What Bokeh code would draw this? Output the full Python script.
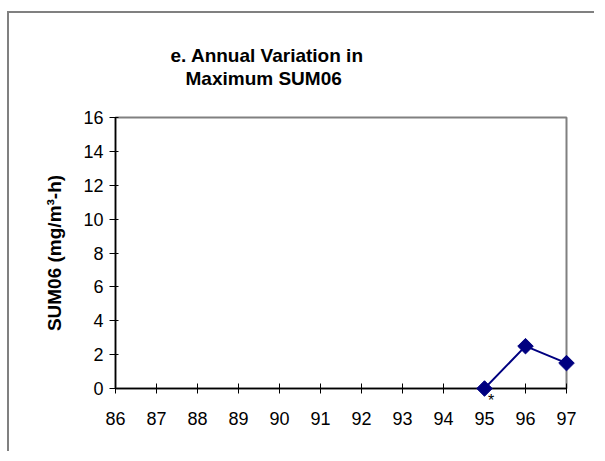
import numpy as np
from bokeh.plotting import figure
from bokeh.models import FixedTicker, Range1d, Title, LinearAxis
from bokeh.embed import file_html
from bokeh.resources import INLINE

# ---- data ----
years = [95, 96, 97]
sum06 = [0.0, 2.5, 1.5]
x_ticks = list(range(86, 98))
y_ticks = list(range(0, 17, 2))
title_lines = ["e. Annual Variation in", "Maximum SUM06"]
y_label = "SUM06 (mg/m\u00b3-h)"
note_year = 95
note_text = "*"

FONT = "Liberation Sans"
NAVY = "#000080"

p = figure(width=587, height=440, output_backend="svg", toolbar_location=None,
           title=None, x_axis_location=None,
           x_range=Range1d(86, 97), y_range=Range1d(0, 16),
           min_border_left=106, min_border_right=30,
           min_border_top=104, min_border_bottom=65,
           background_fill_color="white", border_fill_color="white",
           styles={"margin-top": "11px", "margin-left": "7px",
                   "border-top": "2px solid #808080",
                   "border-left": "2px solid #808080"})

p.grid.visible = False
p.outline_line_color = "#808080"
p.outline_line_width = 2

# x axis with line + ticks; its only label is the note marker under 95
xa = LinearAxis(ticker=FixedTicker(ticks=x_ticks))
xa.axis_line_color = "black"
xa.axis_line_width = 1.5
xa.major_tick_line_color = "black"
xa.major_tick_in = 5
xa.major_tick_out = 5
xa.minor_tick_line_color = None
xa.major_label_overrides = {
    t: ("\u00a0\u00a0\u00a0" + note_text if t == note_year else "") for t in x_ticks
}
xa.major_label_text_font = FONT
xa.major_label_text_font_size = "16px"
xa.major_label_text_color = "black"
xa.major_label_standoff = -2
p.add_layout(xa, "below")

# x axis carrying the year labels
xb = LinearAxis(ticker=FixedTicker(ticks=x_ticks))
xb.axis_line_color = None
xb.major_tick_line_color = None
xb.major_tick_in = 0
xb.major_tick_out = 0
xb.minor_tick_line_color = None
xb.major_label_text_font = FONT
xb.major_label_text_font_size = "18px"
xb.major_label_text_color = "black"
xb.major_label_standoff = 0
p.add_layout(xb, "below")

# y axis
ya = p.yaxis[0]
ya.ticker = FixedTicker(ticks=y_ticks)
ya.axis_line_color = "black"
ya.axis_line_width = 1.5
ya.major_tick_line_color = "black"
ya.major_tick_in = 3
ya.major_tick_out = 6
ya.minor_tick_line_color = None
ya.major_label_text_font = FONT
ya.major_label_text_font_size = "18px"
ya.major_label_text_color = "black"
ya.major_label_standoff = 6
ya.axis_label = y_label
ya.axis_label_text_font = FONT
ya.axis_label_text_font_size = "19px"
ya.axis_label_text_font_style = "bold"
ya.axis_label_text_color = "black"
ya.axis_label_standoff = 15

# data
p.line(years, sum06, line_color=NAVY, line_width=2)
r = p.scatter(years, sum06, marker="square", angle=np.pi / 4, size=11,
              fill_color=NAVY, line_color=NAVY)
r.level = "overlay"

# titles: spacer closest to plot, then line 2, then line 1
p.add_layout(Title(text=" ", align="left", standoff=6,
                   text_font=FONT, text_font_size="19px"), "above")
p.add_layout(Title(text=title_lines[1], align="left", offset=70, standoff=0,
                   text_font=FONT, text_font_size="19px", text_font_style="bold",
                   text_color="black"), "above")
p.add_layout(Title(text=title_lines[0], align="left", offset=55, standoff=0,
                   text_font=FONT, text_font_size="19px", text_font_style="bold",
                   text_color="black"), "above")

open("out.html", "w").write(file_html(p, INLINE))
